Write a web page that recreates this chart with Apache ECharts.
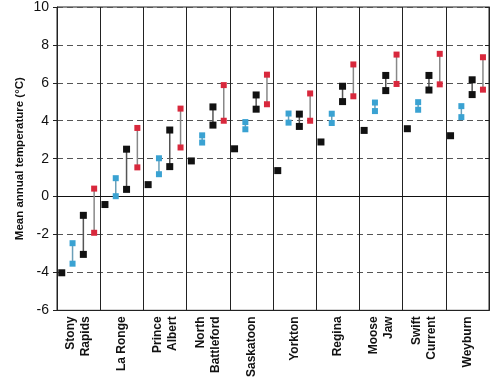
<!DOCTYPE html>
<html>
<head>
<meta charset="utf-8">
<script src="https://cdn.jsdelivr.net/npm/echarts@6/dist/echarts.min.js"></script>
<style>html,body{margin:0;padding:0;background:#fff}#c{width:500px;height:380px}</style>
</head>
<body>
<div id="c"></div>
<script>
var stations = ['Stony\nRapids','La Ronge','Prince\nAlbert','North\nBattleford','Saskatoon','Yorkton','Regina','Moose\nJaw','Swift\nCurrent','Weyburn'];
var yTicks = [-6,-4,-2,0,2,4,6,8,10];
var baseline = [-4.02,-0.42,0.63,1.88,2.52,1.37,2.88,3.49,3.58,3.21];
var blueHigh = [-2.46,0.97,2.02,3.23,3.93,4.38,4.37,4.96,4.98,4.77];
var blueLow  = [-3.54,0.02,1.18,2.85,3.55,3.90,3.88,4.51,4.58,4.19];
var blackHigh = [-0.99,2.50,3.51,4.73,5.36,4.35,5.82,6.39,6.39,6.16];
var blackLow  = [-3.05,0.38,1.58,3.77,4.61,3.70,5.01,5.59,5.62,5.38];
var redHigh = [0.42,3.62,4.64,5.88,6.43,5.44,6.97,7.49,7.53,7.35];
var redLow  = [-1.91,1.54,2.59,4.00,4.87,4.00,5.29,5.94,5.92,5.64];

var OFF = [0.11, 0.36, 0.61, 0.86];
var FONT = 'Liberation Sans, Arial, sans-serif';

function pairData(hi, lo, off) {
  return stations.map(function(s, k){ return [k + off, lo[k], hi[k]]; });
}
function pairSeries(hi, lo, off, color, lineColor, size) {
  return {
    type: 'custom',
    xAxisIndex: 0,
    encode: {x: 0, y: [1, 2]},
    data: pairData(hi, lo, off),
    z: 5,
    renderItem: function(params, api) {
      var pLo = api.coord([api.value(0), api.value(1)]);
      var pHi = api.coord([api.value(0), api.value(2)]);
      var h = size / 2;
      return {
        type: 'group',
        children: [
          {type: 'line', shape: {x1: pHi[0], y1: pHi[1], x2: pLo[0], y2: pLo[1]}, style: {stroke: lineColor, lineWidth: 1.5}},
          {type: 'rect', shape: {x: pHi[0]-h, y: pHi[1]-h, width: size, height: size}, style: {fill: color}},
          {type: 'rect', shape: {x: pLo[0]-h, y: pLo[1]-h, width: size, height: size}, style: {fill: color}}
        ]
      };
    }
  };
}

var chart = echarts.init(document.getElementById('c'), null, {renderer: 'canvas'});
chart.setOption({
  animation: false,
  backgroundColor: '#fff',
  grid: {left: 57, right: 11, top: 6, bottom: 68, show: true, borderColor: '#222', borderWidth: 1, backgroundColor: 'transparent'},
  xAxis: [
    {type: 'value', min: 0, max: 10, interval: 1, position: 'bottom',
     axisLine: {show: true, onZero: false, lineStyle: {color: '#222', width: 1}},
     axisTick: {show: false}, axisLabel: {show: false},
     splitLine: {show: true, lineStyle: {color: '#222', width: 1, type: 'solid'}}},
    {type: 'category', data: stations, position: 'bottom', boundaryGap: true,
     axisLine: {show: false}, axisTick: {show: false}, splitLine: {show: false},
     axisLabel: {rotate: 90, interval: 0, margin: 6, fontFamily: FONT, fontWeight: 'bold', fontSize: 12, lineHeight: 15, color: '#111'}}
  ],
  yAxis: [
    {type: 'value', min: -6, max: 10, interval: 2,
     name: 'Mean annual temperature (°C)', nameLocation: 'middle', nameGap: 31, nameMoveOverlap: false,
     nameTextStyle: {fontFamily: FONT, fontWeight: 'bold', fontSize: 11.5, color: '#111'},
     axisLine: {show: true, lineStyle: {color: '#222'}},
     axisTick: {show: true, length: 4, lineStyle: {color: '#222'}},
     axisLabel: {fontFamily: FONT, fontSize: 14, color: '#111', margin: 8},
     splitLine: {show: true, lineStyle: {color: '#555', width: 1, type: [6, 4]}}},
    {type: 'value', min: -6, max: 10, interval: 2, position: 'right',
     axisLine: {show: true, lineStyle: {color: '#222'}},
     axisTick: {show: true, inside: true, length: 4, lineStyle: {color: '#222'}},
     axisLabel: {show: false}, splitLine: {show: false}}
  ],
  series: [
    {type: 'line', xAxisIndex: 0, data: [], symbol: 'none',
     markLine: {silent: true, symbol: 'none', label: {show: false},
       lineStyle: {color: '#111', width: 1.2, type: 'solid'}, data: [{yAxis: 0}]}},
    {type: 'scatter', xAxisIndex: 0, symbol: 'rect', symbolSize: 7, z: 5,
     itemStyle: {color: '#111', opacity: 1},
     data: baseline.map(function(v, k){ return [k + OFF[0], v]; })},
    pairSeries(blueHigh, blueLow, OFF[1], '#3aa2d2', '#6b9fb8', 6),
    pairSeries(blackHigh, blackLow, OFF[2], '#111', '#555', 7),
    pairSeries(redHigh, redLow, OFF[3], '#d8283c', '#888', 6)
  ]
});
</script>
</body>
</html>
